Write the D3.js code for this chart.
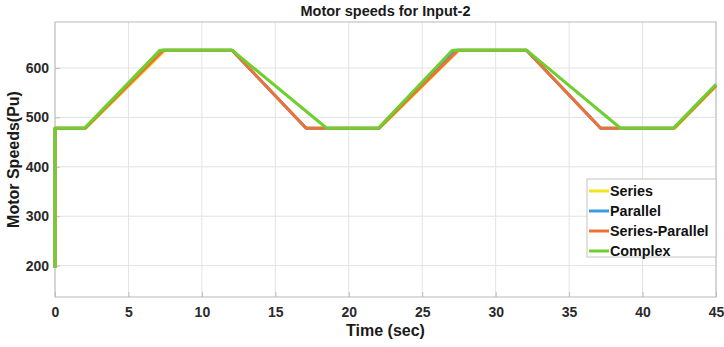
<!DOCTYPE html>
<html>
<head>
<meta charset="utf-8">
<script src="https://cdn.jsdelivr.net/npm/d3@7"></script>
<style>
  html, body { margin: 0; padding: 0; background: #fff; }
  svg { display: block; font-family: "Liberation Sans", Arial, sans-serif; }
</style>
</head>
<body>
<svg id="chart" width="724" height="347"></svg>
<script>
// Motor speed traces (time in s, speed in Pu)
const seriesNames = ["Series", "Parallel", "Series-Parallel", "Complex"];
const seriesColors = ["#f2e51a", "#3b9be0", "#f0703c", "#6fcf2f"];

const seriesTime = [0, 0, 2.1, 7.5, 12.05, 17.1, 22.1, 27.5, 32.1, 37.15, 42.2, 45];
const seriesSpeed = [195, 478, 478, 636, 636, 478, 478, 636, 636, 478, 478, 563];

const parallelTime = [0, 0, 2.05, 7.3, 12.05, 17.1, 22.05, 27.3, 32.1, 37.15, 42.1, 45];
const parallelSpeed = [195, 478, 478, 636, 636, 478, 478, 636, 636, 478, 478, 565];

const seriesParallelTime = [0, 0, 2.05, 7.4, 12.05, 17.1, 22.05, 27.45, 32.1, 37.15, 42.15, 45];
const seriesParallelSpeed = [195, 478, 478, 636, 636, 478, 478, 636, 636, 478, 478, 564];

const complexTime = [0, 0, 2.0, 7.15, 12.05, 18.5, 22.0, 27.05, 32.1, 38.5, 42.1, 45];
const complexSpeed = [195, 478, 478, 636, 636, 478, 478, 636, 636, 478, 478, 567];

const xTicks = [0, 5, 10, 15, 20, 25, 30, 35, 40, 45];
const yTicks = [200, 300, 400, 500, 600];

const traces = [
  { t: seriesTime, v: seriesSpeed },
  { t: parallelTime, v: parallelSpeed },
  { t: seriesParallelTime, v: seriesParallelSpeed },
  { t: complexTime, v: complexSpeed }
].map((d, i) => ({
  name: seriesNames[i],
  color: seriesColors[i],
  points: d.t.map((t, j) => [t, d.v[j]])
}));

const svg = d3.select("#chart");
const m = { left: 55, right: 8, top: 22, bottom: 50 };
const W = 724, H = 347;
const x = d3.scaleLinear().domain([0, 45]).range([m.left, W - m.right]);
const y = d3.scaleLinear().domain([136.5, 693]).range([H - m.bottom, m.top]);

// grid
const grid = svg.append("g").attr("stroke", "#e3e3e3").attr("stroke-width", 1);
xTicks.forEach(t => grid.append("line")
  .attr("x1", x(t)).attr("x2", x(t)).attr("y1", y.range()[1]).attr("y2", y.range()[0]));
yTicks.forEach(t => grid.append("line")
  .attr("x1", x.range()[0]).attr("x2", x.range()[1]).attr("y1", y(t)).attr("y2", y(t)));

// box
svg.append("rect")
  .attr("x", x.range()[0]).attr("y", y.range()[1])
  .attr("width", x.range()[1] - x.range()[0])
  .attr("height", y.range()[0] - y.range()[1])
  .attr("fill", "none").attr("stroke", "#c4c4c4").attr("stroke-width", 1.2);

// axes
const xAxis = svg.append("g")
  .attr("transform", `translate(0,${y.range()[0]})`)
  .call(d3.axisBottom(x).tickValues(xTicks).tickSize(-5).tickPadding(10));
const yAxis = svg.append("g")
  .attr("transform", `translate(${x.range()[0]},0)`)
  .call(d3.axisLeft(y).tickValues(yTicks).tickSize(-5).tickPadding(6));
[xAxis, yAxis].forEach(a => {
  a.select(".domain").remove();
  a.selectAll(".tick line").attr("stroke", "#bdbdbd");
  a.selectAll(".tick text")
    .attr("fill", "#2a2a2a")
    .attr("font-size", 14)
    .attr("font-weight", "bold")
    .attr("font-family", "Liberation Sans, Arial, sans-serif");
});

// lines
const line = d3.line().x(d => x(d[0])).y(d => y(d[1])).curve(d3.curveLinear);
traces.forEach(tr => {
  svg.append("path")
    .datum(tr.points)
    .attr("fill", "none")
    .attr("stroke", tr.color)
    .attr("stroke-width", 3)
    .attr("stroke-linejoin", "round")
    .attr("d", line);
});

// title and axis labels
svg.append("text")
  .attr("x", (x.range()[0] + x.range()[1]) / 2).attr("y", 16)
  .attr("text-anchor", "middle").attr("font-size", 14.5).attr("font-weight", "bold")
  .attr("fill", "#1a1a1a")
  .text("Motor speeds for Input-2");
svg.append("text")
  .attr("x", (x.range()[0] + x.range()[1]) / 2).attr("y", 336)
  .attr("text-anchor", "middle").attr("font-size", 16).attr("font-weight", "bold")
  .attr("fill", "#1a1a1a")
  .text("Time (sec)");
svg.append("text")
  .attr("transform", `translate(19,${(y.range()[0] + y.range()[1]) / 2}) rotate(-90)`)
  .attr("text-anchor", "middle").attr("font-size", 16).attr("font-weight", "bold")
  .attr("fill", "#1a1a1a")
  .text("Motor Speeds(Pu)");

// legend
const lg = svg.append("g").attr("transform", "translate(587,179)");
lg.append("rect")
  .attr("width", 129).attr("height", 78)
  .attr("fill", "#fff").attr("stroke", "#c4c4c4").attr("stroke-width", 1);
traces.forEach((tr, i) => {
  const yy = 12 + i * 20;
  lg.append("line")
    .attr("x1", 2).attr("x2", 22).attr("y1", yy).attr("y2", yy)
    .attr("stroke", tr.color).attr("stroke-width", 3);
  lg.append("text")
    .attr("x", 23).attr("y", yy + 5)
    .attr("font-size", 14.3).attr("font-weight", "bold").attr("fill", "#111")
    .text(tr.name);
});
</script>
</body>
</html>
